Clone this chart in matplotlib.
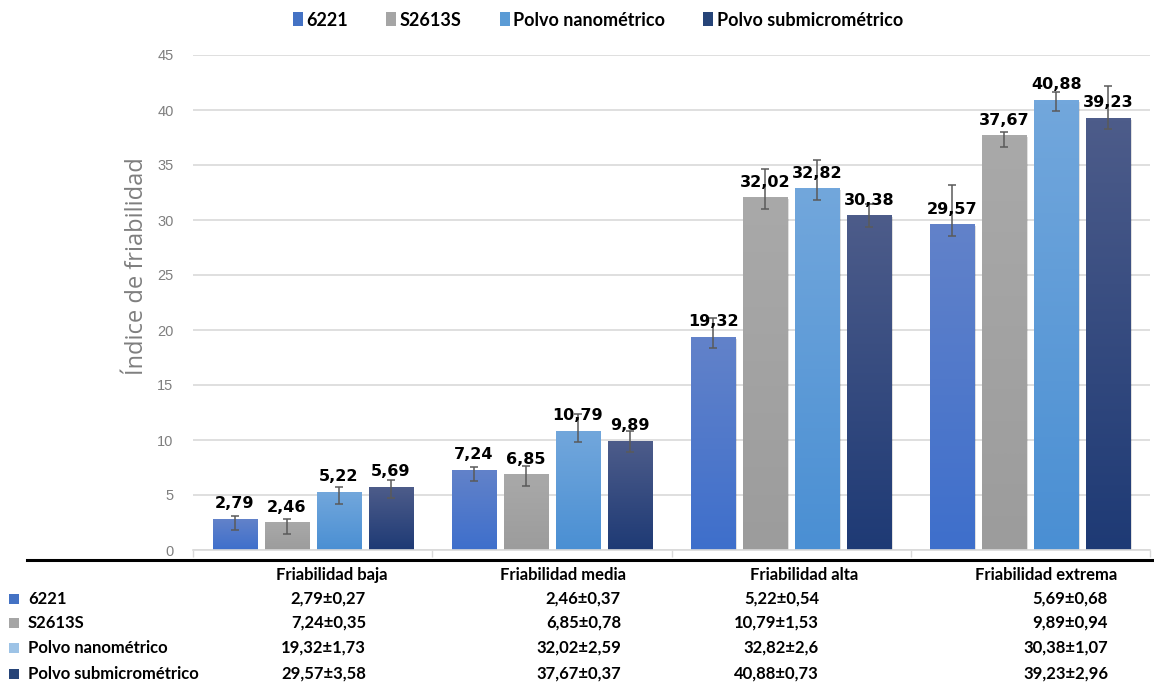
import numpy as np
import matplotlib
matplotlib.use("Agg")
import matplotlib.pyplot as plt
import matplotlib.colors as mcolors
from matplotlib.patches import Rectangle
from matplotlib.lines import Line2D
from matplotlib.transforms import ScaledTranslation

# ---- data -------------------------------------------------------------
categories = ["Friabilidad baja", "Friabilidad media", "Friabilidad alta", "Friabilidad extrema"]
series = ["6221", "S2613S", "Polvo nanométrico", "Polvo submicrométrico"]

vals_6221 = [2.79, 7.24, 19.32, 29.57]
vals_s2613s = [2.46, 6.85, 32.02, 37.67]
vals_nano = [5.22, 10.79, 32.82, 40.88]
vals_sub = [5.69, 9.89, 30.38, 39.23]

# upper error (standard deviation); lower error bars use a fixed value
err_6221 = [0.27, 0.35, 1.73, 3.58]
err_s2613s = [0.37, 0.78, 2.59, 0.37]
err_nano = [0.54, 1.53, 2.6, 0.73]
err_sub = [0.68, 0.94, 1.07, 2.96]
err_low = 1.0

yticks = [0, 5, 10, 15, 20, 25, 30, 35, 40, 45]

values = [vals_6221, vals_s2613s, vals_nano, vals_sub]
errors = [err_6221, err_s2613s, err_nano, err_sub]

# ---- styling ----------------------------------------------------------
legend_colors = ["#4472c4", "#a5a5a5", "#5b9bd5", "#264478"]
table_colors = ["#4472c4", "#a5a5a5", "#9dc3e6", "#264478"]
grad_top = ["#6282c9", "#a9a9a9", "#72a7dc", "#4d5c8a"]
grad_bot = ["#3e6fcc", "#9c9c9c", "#4a8fd3", "#1e3a75"]

W, H = 1154, 685
fig = plt.figure(figsize=(W / 100, H / 100), dpi=100)
ax = fig.add_axes([193 / W, 1 - 550 / H, (1150 - 193) / W, (550 - 55) / H])

bar_w = 0.184
step = 0.2176
x = np.arange(len(categories))

shadow_tr = ax.transData + ScaledTranslation(1.5 / 100, -1.5 / 100, fig.dpi_scale_trans)

for j, (vals, errs) in enumerate(zip(values, errors)):
    cmap = mcolors.LinearSegmentedColormap.from_list(
        f"g{j}", [grad_bot[j], grad_top[j]])
    grad = np.linspace(0, 1, 128).reshape(-1, 1)
    xs = x + (j - 1.5) * step
    for xc, v in zip(xs, vals):
        ax.add_patch(Rectangle((xc - bar_w / 2, 0), bar_w, v, transform=shadow_tr,
                               facecolor="black", alpha=0.12, edgecolor="none", zorder=1))
        ax.imshow(grad, extent=[xc - bar_w / 2, xc + bar_w / 2, 0, v], origin="lower",
                  cmap=cmap, aspect="auto", interpolation="bilinear", zorder=2)
    ax.errorbar(xs, vals, yerr=[[err_low] * len(vals), errs], fmt="none",
                ecolor="#5a5a5a", elinewidth=1.1, capsize=3.2, capthick=1.1, zorder=4)
    for xc, v in zip(xs, vals):
        ax.annotate(f"{v:.2f}".replace(".", ","), (xc, v), xytext=(0, 8),
                    textcoords="offset points", ha="center", va="baseline",
                    fontsize=11.5, fontweight="bold", color="black",
                    family="DejaVu Sans", zorder=5)

ax.set_xlim(-0.5, 3.5)
ax.set_ylim(0, 45)
ax.set_yticks(yticks)
ax.set_yticklabels([str(t) for t in yticks], family="Liberation Sans", fontsize=10.5,
                   color="#7f7f7f")
ax.tick_params(axis="y", length=0, pad=14)
ax.set_xticks(np.arange(-0.5, 4, 1))
ax.set_xticklabels([])
ax.tick_params(axis="x", direction="out", length=5, color="#d9d9d9", width=1)
ax.yaxis.grid(True, color="#d9d9d9", linewidth=1.2)
ax.set_axisbelow(True)
for s in ["top", "right", "left"]:
    ax.spines[s].set_visible(False)
ax.spines["bottom"].set_color("#d9d9d9")
ax.spines["bottom"].set_linewidth(1.2)

fig.text(137 / W, 1 - 266 / H, "Índice de friabilidad", rotation=90, ha="center",
         va="center", fontsize=17, color="#7f7f7f", family="Open Sans")

# ---- legend -----------------------------------------------------------
handles = [Rectangle((0, 0), 1, 1, facecolor=c, edgecolor="none") for c in legend_colors]
fig.legend(handles, series, loc="center", bbox_to_anchor=(598 / W, 1 - 20 / H),
           ncol=4, frameon=False, handlelength=0.55, handleheight=0.8,
           handletextpad=0.2, columnspacing=2.1,
           prop={"family": "Lato", "weight": "bold", "size": 13})

# ---- data table -------------------------------------------------------
fig.add_artist(Line2D([27 / W, 1.0], [1 - 560 / H, 1 - 560 / H], color="black",
                      linewidth=2.2, transform=fig.transFigure))

tfont = {"family": "Lato", "weight": "bold", "size": 12}
header_x = [332, 563, 804, 1046]
value_right = [366, 621, 819, 1108]
header_y = 575
row_y = [599, 623, 648, 674]

for cx, name in zip(header_x, categories):
    fig.text(cx / W, 1 - header_y / H, name, ha="center", va="center", **tfont)

for i, (name, ry) in enumerate(zip(series, row_y)):
    fig.add_artist(Rectangle((9 / W, 1 - (ry + 5) / H), 10 / W, 10 / H,
                             facecolor=table_colors[i], edgecolor="none",
                             transform=fig.transFigure))
    fig.text(28 / W, 1 - ry / H, name, ha="left", va="center", **tfont)
    for j in range(len(categories)):
        v = values[j][i]
        e = errors[j][i]
        cell = f"{v:.2f}±{e:g}".replace(".", ",")
        fig.text(value_right[j] / W, 1 - ry / H, cell, ha="right", va="center", **tfont)

fig.savefig("out.png", dpi=100)
